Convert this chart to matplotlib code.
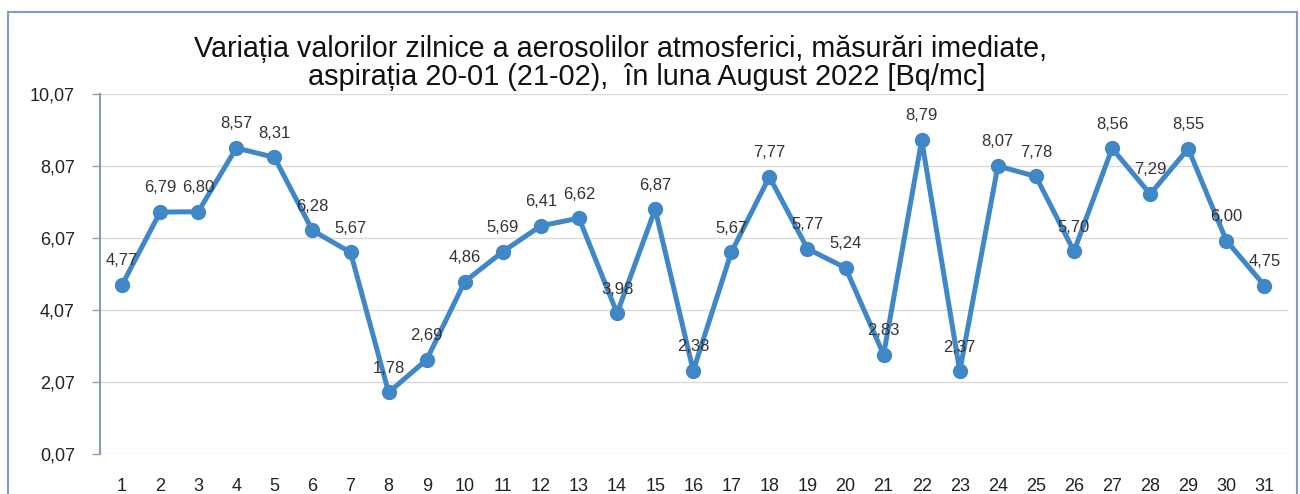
import matplotlib
matplotlib.use("Agg")
import matplotlib.pyplot as plt
from matplotlib.patches import Rectangle

days = list(range(1, 32))
values = [4.77, 6.79, 6.80, 8.57, 8.31, 6.28, 5.67, 1.78, 2.69, 4.86, 5.69, 6.41,
          6.62, 3.98, 6.87, 2.38, 5.67, 7.77, 5.77, 5.24, 2.83, 8.79, 2.37, 8.07,
          7.78, 5.70, 8.56, 7.29, 8.55, 6.00, 4.75]
yticks = [0.07, 2.07, 4.07, 6.07, 8.07, 10.07]
title_line1 = "Variația valorilor zilnice a aerosolilor atmosferici, măsurări imediate,"
title_line2 = "aspirația 20-01 (21-02),  în luna August 2022 [Bq/mc]"

plt.rcParams['font.family'] = ['Liberation Sans', 'DejaVu Sans']
W, H = 1300, 494
fig = plt.figure(figsize=(W / 100, H / 100), dpi=100)
fig.patch.set_facecolor('white')

l, r, t, b = 100, 1288, 94, 454
ax = fig.add_axes([l / W, 1 - b / H, (r - l) / W, (b - t) / H])

color = '#3f87c7'
ax.plot(days, values, color=color, lw=3.6, marker='o', ms=10, mfc=color, mec=color, zorder=3)
for d, v in zip(days, values):
    ax.annotate(f"{v:.2f}".replace('.', ','), (d, v), xytext=(0, 12), textcoords='offset points',
                ha='center', va='bottom', fontsize=12, color='#333333', zorder=4)

ax.set_xlim(0.42, 31.62)
ax.set_ylim(0.07, 10.07)
ax.set_yticks(yticks)
ax.set_yticklabels([f"{y:.2f}".replace('.', ',') for y in yticks], fontsize=13, color='#222222')
ax.set_xticks(days)
ax.set_xticklabels([str(d) for d in days], fontsize=13, color='#222222')
ax.tick_params(axis='x', length=0, pad=17)
ax.tick_params(axis='y', length=6, width=1, color='#8a9cb8', pad=12)
ax.grid(axis='y', color='#dadada', lw=1)
ax.set_axisbelow(True)
for s in ['top', 'right']:
    ax.spines[s].set_visible(False)
ax.spines['bottom'].set_visible(False)
ax.spines['left'].set_color('#8a9cb8')
ax.spines['left'].set_linewidth(1.5)

fig.text(621 / W, 1 - 57 / H, title_line1, ha='center', va='baseline', fontsize=20.6, color='#111111')
fig.text(647 / W, 1 - 85 / H, title_line2, ha='center', va='baseline', fontsize=20.8, color='#111111')

fig.patches.append(Rectangle((8 / W, -0.05), (1297 - 8) / W, 1.05 - 12 / H,
                             transform=fig.transFigure, fill=False,
                             edgecolor='#7f9ccc', lw=1.5))

fig.savefig('out.png', dpi=100)
